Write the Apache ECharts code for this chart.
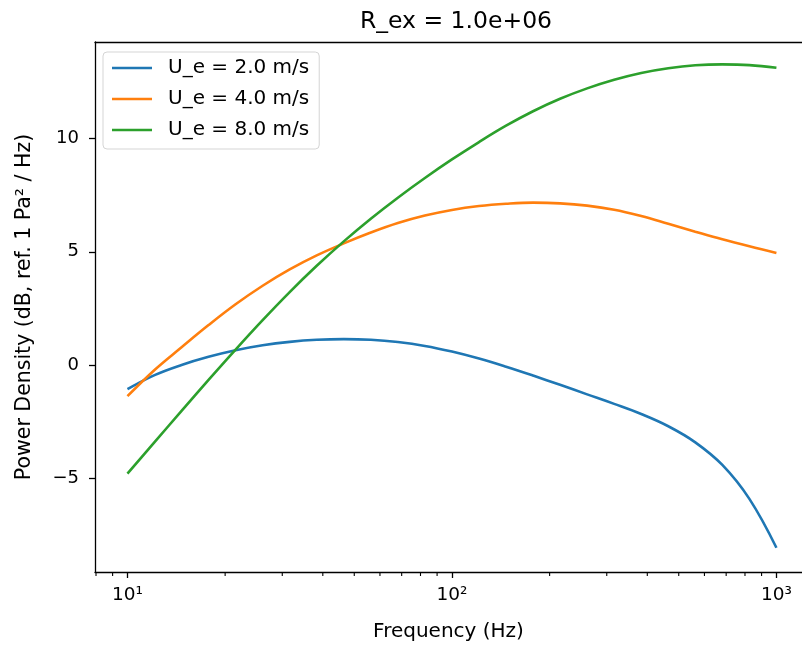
<!DOCTYPE html>
<html>
<head>
<meta charset="utf-8">
<script src="https://cdn.jsdelivr.net/npm/echarts@6/dist/echarts.min.js"></script>
<style>
  html, body { margin: 0; padding: 0; background: #fff; }
  #chart { width: 802px; height: 647px; }
</style>
</head>
<body>
<div id="chart"></div>
<script>
// Frequencies (Hz), log-spaced
const freqs = [10, 12.12, 14.68, 17.78, 21.54, 26.10, 31.62, 38.31, 46.42, 56.23, 68.13, 82.54, 100, 121.2, 146.8, 177.8, 215.4, 261.0, 316.2, 383.1, 464.2, 562.3, 681.3, 825.4, 1000];
// Power density (dB) per series
const ue2 = [-1.07, -0.45, 0.00, 0.36, 0.65, 0.87, 1.02, 1.11, 1.14, 1.11, 1.01, 0.84, 0.59, 0.28, -0.08, -0.47, -0.88, -1.30, -1.72, -2.17, -2.71, -3.42, -4.42, -5.92, -8.08];
const ue4 = [-1.38, -0.22, 0.78, 1.76, 2.68, 3.50, 4.22, 4.84, 5.37, 5.85, 6.27, 6.60, 6.85, 7.02, 7.12, 7.17, 7.14, 7.04, 6.86, 6.58, 6.24, 5.89, 5.55, 5.24, 4.95];
const ue8 = [-4.80, -3.41, -2.03, -0.66, 0.68, 1.98, 3.22, 4.38, 5.46, 6.46, 7.39, 8.26, 9.08, 9.85, 10.57, 11.21, 11.76, 12.22, 12.60, 12.90, 13.11, 13.24, 13.28, 13.25, 13.13];
const seriesNames = ['U_e = 2.0 m/s', 'U_e = 4.0 m/s', 'U_e = 8.0 m/s'];
const seriesColors = ['#1f77b4', '#ff7f0e', '#2ca02c'];
// Axis ticks
const yTicks = [-5, 0, 5, 10];
const xMinorTicks = [8, 9, 20, 30, 40, 50, 60, 70, 80, 90, 200, 300, 400, 500, 600, 700, 800, 900];
const xMin = 7.943, xMax = 1199, yMin = -9.15, yMax = 14.27;

const supers = {1: '\u00b9', 2: '\u00b2', 3: '\u00b3'};
function pair(xs, ys) { return xs.map((x, i) => [x, ys[i]]); }

const chart = echarts.init(document.getElementById('chart'), null, {renderer: 'canvas'});
const font = 'DejaVu Sans';
const lineSeries = [ue2, ue4, ue8].map((vals, i) => ({
  name: seriesNames[i],
  type: 'line',
  data: pair(freqs, vals),
  showSymbol: false,
  symbol: 'none',
  smooth: 0.4,
  color: seriesColors[i],
  lineStyle: {width: 2.6, color: seriesColors[i]},
  z: 3
}));

chart.setOption({
  animation: false,
  backgroundColor: '#fff',
  textStyle: {fontFamily: font},
  title: {
    text: 'R_ex = 1.0e+06',
    left: 451, top: 5, textAlign: 'center',
    textStyle: {fontFamily: font, fontSize: 23.5, fontWeight: 'normal', color: '#000'}
  },
  legend: {
    data: seriesNames,
    orient: 'vertical',
    left: 103, top: 52,
    padding: [4, 10, 7, 9],
    icon: 'rect',
    itemWidth: 40, itemHeight: 2.6, itemGap: 7,
    backgroundColor: 'rgba(255,255,255,0.8)',
    borderColor: '#d5d5d5', borderWidth: 1, borderRadius: 4,
    textStyle: {fontFamily: font, fontSize: 20, color: '#000', lineHeight: 24, padding: [0, 0, 0, 11]}
  },
  grid: {left: 95, top: 42, right: 0, bottom: 74, show: false, containLabel: false},
  xAxis: [{
    type: 'log', logBase: 10, min: xMin, max: xMax,
    name: 'Frequency (Hz)', nameLocation: 'middle', nameGap: 50,
    nameTextStyle: {fontFamily: font, fontSize: 20, color: '#000'},
    axisLine: {show: true, onZero: false, lineStyle: {color: '#000', width: 1.3}},
    axisTick: {show: true, length: 6, lineStyle: {color: '#000', width: 1.3}},
    splitLine: {show: false},
    axisLabel: {
      fontFamily: font, fontSize: 18.5, color: '#000', margin: 14,
      showMinLabel: false, showMaxLabel: false,
      formatter: function (v) {
        const e = Math.log10(v);
        const r = Math.round(e);
        if (Math.abs(e - r) < 1e-6 && supers[r]) return '10' + supers[r];
        return '';
      }
    }
  }, {
    type: 'log', logBase: 10, min: xMin, max: xMax, position: 'top',
    axisLine: {show: true, onZero: false, lineStyle: {color: '#000', width: 1.3}},
    axisTick: {show: false}, axisLabel: {show: false}, splitLine: {show: false}
  }],
  yAxis: {
    type: 'value', min: yMin, max: yMax,
    name: 'Power Density (dB, ref. 1 Pa\u00b2 / Hz)', nameLocation: 'middle', nameGap: 60,
    nameTextStyle: {fontFamily: font, fontSize: 20.5, color: '#000'},
    axisLine: {show: true, onZero: false, lineStyle: {color: '#000', width: 1.3}},
    axisTick: {show: true, length: 6, customValues: yTicks, lineStyle: {color: '#000', width: 1.3}},
    splitLine: {show: false},
    axisLabel: {
      fontFamily: font, fontSize: 18, color: '#000', margin: 16, customValues: yTicks,
      formatter: function (v) { return v < 0 ? '\u2212' + Math.abs(v) : String(v); }
    }
  },
  series: lineSeries.concat([{
    type: 'custom',
    name: 'minorTicks',
    silent: true,
    clip: false,
    data: xMinorTicks.map(f => [f, yMin]),
    encode: {x: 0, y: 1},
    renderItem: function (params, api) {
      const p = api.coord([api.value(0), api.value(1)]);
      return {
        type: 'line',
        shape: {x1: p[0], y1: p[1], x2: p[0], y2: p[1] + 4},
        style: {stroke: '#000', lineWidth: 1.1}
      };
    },
    z: 5
  }])
});
</script>
</body>
</html>
